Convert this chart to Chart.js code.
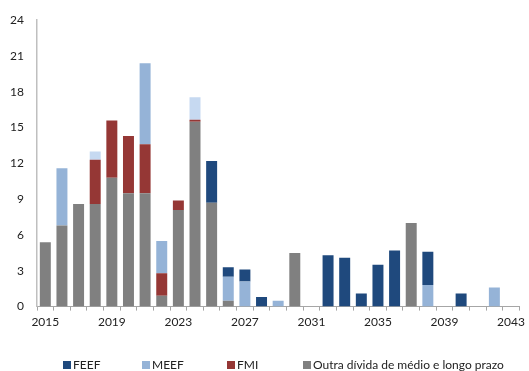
<!DOCTYPE html>
<html>
<head>
<meta charset="utf-8">
<script src="https://cdn.jsdelivr.net/npm/chart.js@4/dist/chart.umd.min.js"></script>
<style>
  html, body { margin: 0; padding: 0; background: #fff; }
  #wrap { position: relative; width: 529px; height: 371px; }
</style>
</head>
<body>
<div id="wrap"><canvas id="c" width="529" height="371"></canvas></div>
<script>
// Amortization profile by year (mil milhões de euros)
const years = ["2015","2016","2017","2018","2019","2020","2021","2022","2023","2024",
  "2025","2026","2027","2028","2029","2030","2031","2032","2033","2034",
  "2035","2036","2037","2038","2039","2040","2041","2042","2043"];

const outraDivida = [5.4, 6.8, 8.6, 8.6, 10.8, 9.5, 9.5, 0.9, 8.1, 15.5,
  8.7, 0.5, null, null, null, 4.5, null, null, null, null,
  null, null, 7.0, null, null, null, null, null, null];

const fmi = [null, null, null, 3.7, 4.8, 4.8, 4.1, 1.9, 0.8, 0.15,
  null, null, null, null, null, null, null, null, null, null,
  null, null, null, null, null, null, null, null, null];

const meef = [null, 4.8, null, null, null, null, 6.8, 2.7, null, null,
  null, 2.0, 2.1, null, 0.5, null, null, null, null, null,
  null, null, null, 1.8, null, null, null, 1.6, null];

const feef = [null, null, null, null, null, null, null, null, null, null,
  3.5, 0.8, 1.0, 0.8, null, null, null, 4.3, 4.1, 1.1,
  3.5, 4.7, null, 2.8, null, 1.1, null, null, null];

const outros = [null, null, null, 0.7, null, null, null, null, null, 1.9,
  null, null, null, null, null, null, null, null, null, null,
  null, null, null, null, null, null, null, null, null];

const yTicks = [0, 3, 6, 9, 12, 15, 18, 21, 24];

// Legend entries, in the order they are listed
const legendNames = ['FEEF', 'MEEF', 'FMI', 'Outra dívida de médio e longo prazo'];
const legendX = [63, 142, 227, 303];

const FONT = "Lato, 'Liberation Sans', sans-serif";

// Single-row legend along the bottom, one entry per named series
const rowLegend = {
  id: 'rowLegend',
  afterDraw(chart) {
    const ctx = chart.ctx;
    const y = 365;
    ctx.save();
    ctx.font = '12px ' + FONT;
    ctx.textBaseline = 'middle';
    ctx.textAlign = 'left';
    legendNames.forEach((name, i) => {
      const ds = chart.data.datasets.find(d => d.label === name);
      ctx.fillStyle = ds.backgroundColor;
      ctx.fillRect(legendX[i], y - 4, 8, 8);
      ctx.fillStyle = '#222';
      ctx.fillText(name, legendX[i] + 10, y + 0.5);
    });
    ctx.restore();
  }
};

new Chart(document.getElementById('c'), {
  type: 'bar',
  data: {
    labels: years,
    datasets: [
      { label: 'Outra dívida de médio e longo prazo', data: outraDivida, backgroundColor: '#808080' },
      { label: 'FMI', data: fmi, backgroundColor: '#953735' },
      { label: 'MEEF', data: meef, backgroundColor: '#95B3D7' },
      { label: 'FEEF', data: feef, backgroundColor: '#1F497D' },
      { label: 'Outros', data: outros, backgroundColor: '#C6D9F1' }
    ]
  },
  plugins: [rowLegend],
  options: {
    responsive: false,
    animation: false,
    events: [],
    layout: { padding: { left: 0, right: 4, top: 19, bottom: 38 } },
    datasets: { bar: { categoryPercentage: 1.0, barPercentage: 0.66, borderWidth: 0 } },
    plugins: {
      tooltip: { enabled: false },
      title: { display: false },
      legend: { display: false }
    },
    scales: {
      x: {
        stacked: true,
        grid: { display: true, drawOnChartArea: false, offset: true, tickLength: 4, color: '#a6a6a6' },
        border: { display: true, color: '#a6a6a6', width: 1 },
        ticks: {
          autoSkip: false,
          maxRotation: 0,
          padding: 4,
          color: '#222',
          font: { family: FONT, size: 12 },
          callback: function (v, i) { return i % 4 === 0 ? years[i] : ''; }
        }
      },
      y: {
        stacked: true,
        min: 0,
        max: 24,
        afterFit: (s) => { s.width = 37; },
        afterBuildTicks: (s) => { s.ticks = yTicks.map(v => ({ value: v })); },
        grid: { display: false, drawTicks: false },
        border: { display: true, color: '#bfbfbf', width: 1.5 },
        ticks: {
          padding: 13,
          color: '#222',
          font: { family: FONT, size: 12 }
        }
      }
    }
  }
});
</script>
</body>
</html>
